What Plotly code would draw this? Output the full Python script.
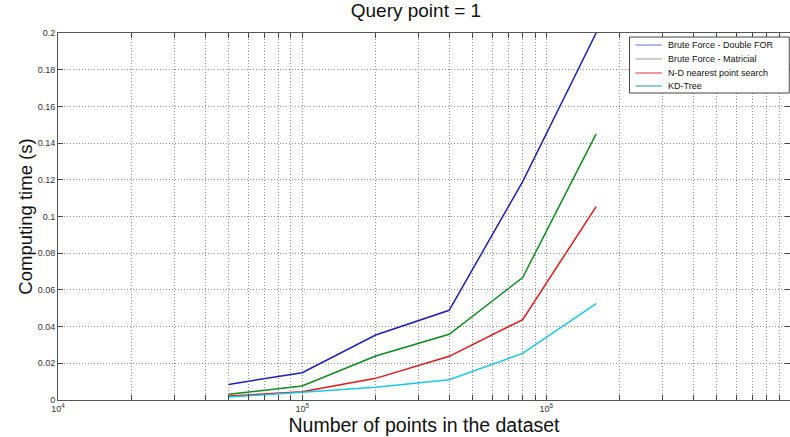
import plotly.graph_objects as go

n_points = [50000, 100000, 200000, 400000, 800000, 1600000]
brute_double_for = [0.0085, 0.0149, 0.0354, 0.0489, 0.119, 0.2]
brute_matricial = [0.0031, 0.0076, 0.0240, 0.0358, 0.0667, 0.145]
nd_nearest = [0.0022, 0.0045, 0.0118, 0.0238, 0.0438, 0.1054]
kd_tree = [0.0016, 0.0044, 0.0069, 0.0110, 0.0254, 0.0525]

legend_names = ["Brute Force - Double FOR", "Brute Force - Matricial",
                "N-D nearest point search", "KD-Tree"]
line_colors = ["#1f1fbf", "#0c8c1c", "#e01818", "#18c8e8"]
legend_colors = ["#6868e0", "#9a9a9a", "#e03030", "#2a9a9a"]

y_ticks = [0, 0.02, 0.04, 0.06, 0.08, 0.1, 0.12, 0.14, 0.16, 0.18, 0.2]
y_labels = ["0", "0.02", "0.04", "0.06", "0.08", "0.1", "0.12", "0.14", "0.16", "0.18", "0.2"]

font = "Liberation Sans, Arial, sans-serif"

fig = go.Figure()
for name, ys, c in zip(legend_names,
                       [brute_double_for, brute_matricial, nd_nearest, kd_tree],
                       line_colors):
    fig.add_trace(go.Scatter(x=n_points, y=ys, mode="lines", name=name,
                             line=dict(color=c, width=1.5), showlegend=False))

xvals, xtext = [], []
for e in range(4, 7):
    for m in range(1, 10):
        xvals.append(m * 10 ** e)
        xtext.append(f"10<sup>{e}</sup>" if m == 1 else "")

# manual compact legend (MATLAB-style box)
lx0, lx1 = 0.7808, 0.999
ly0, ly1 = 0.8365, 0.989
shapes = [dict(type="rect", xref="paper", yref="paper", x0=lx0, x1=lx1, y0=ly0, y1=ly1,
               line=dict(color="#444", width=1), fillcolor="white", layer="above")]
annotations = []
rows = [0.9673, 0.9292, 0.891, 0.8556]
for name, c, ry in zip(legend_names, legend_colors, rows):
    shapes.append(dict(type="line", xref="paper", yref="paper", x0=0.789, x1=0.825,
                       y0=ry, y1=ry, line=dict(color=c, width=1), layer="above"))
    annotations.append(dict(xref="paper", yref="paper", x=0.830, y=ry, text=name,
                            showarrow=False, xanchor="left", yanchor="middle",
                            font=dict(size=9, color="#111", family=font)))
annotations.append(dict(xref="paper", yref="paper", x=1.011, y=0, yshift=-10,
                        text="10<sup>7</sup>", showarrow=False,
                        xanchor="center", yanchor="middle",
                        font=dict(size=9, color="#333", family=font)))

fig.update_layout(
    width=790, height=437,
    margin=dict(l=58, r=0, t=33, b=37),
    paper_bgcolor="white", plot_bgcolor="white",
    font=dict(family=font, color="#222"),
    title=dict(text="Query point = 1", x=0.489, xref="paper", xanchor="center",
               y=0.976, yanchor="middle", font=dict(size=19, color="#111")),
    showlegend=False,
    shapes=shapes,
    annotations=annotations,
    xaxis=dict(type="log", range=[4, 6.998], tickvals=xvals, ticktext=xtext,
               ticks="inside", ticklen=5, tickcolor="#444",
               showgrid=True, gridcolor="#8a8a8a", griddash="1px,2px", gridwidth=1,
               showline=True, linecolor="#555", linewidth=1, mirror="ticks",
               tickfont=dict(size=9, color="#333"), automargin=False,
               title=dict(text="Number of points in the dataset", standoff=0,
                          font=dict(size=19.5, color="#111")),
               zeroline=False),
    yaxis=dict(range=[0, 0.2], tickvals=y_ticks, ticktext=y_labels,
               ticks="inside", ticklen=5, tickcolor="#444",
               showgrid=True, gridcolor="#8a8a8a", griddash="1px,2px", gridwidth=1,
               showline=True, linecolor="#555", linewidth=1, mirror="ticks",
               tickfont=dict(size=9, color="#333"), automargin=False,
               title=dict(text="Computing time (s)", standoff=0,
                          font=dict(size=18.5, color="#111")),
               zeroline=False),
)

fig.write_html("out.html", config={"displayModeBar": False},
               post_script="document.body.style.margin='0px';document.body.style.overflow='hidden';")
